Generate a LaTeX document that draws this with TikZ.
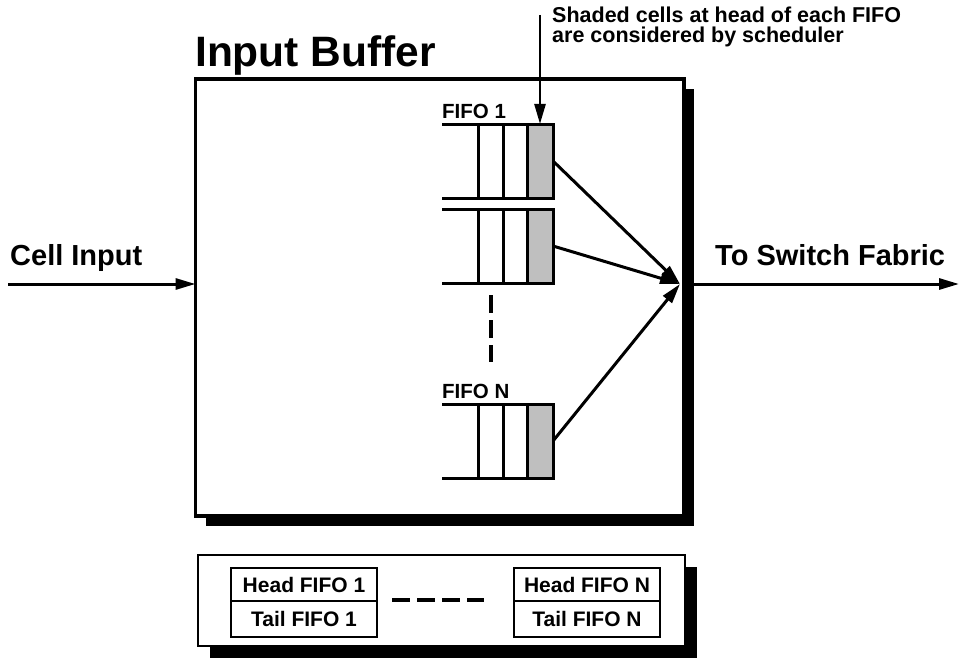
\documentclass[tikz,border=0pt]{standalone}
\usepackage{fontspec}
\setmainfont{Liberation Sans}
\usepackage{tikz}
\usetikzlibrary{arrows.meta, positioning, shadows}
\tikzset{
    shadowbox/.style={draw, fill=white, inner sep=0pt, outer sep=0pt,
        drop shadow={shadow xshift=#1, shadow yshift=-#1, fill=black, opacity=1}},
    headcell/.style={draw, fill=black!25, line width=3pt, inner sep=0pt, outer sep=0pt,
        minimum width=26pt, minimum height=74pt},
    ptrbox/.style={draw, line width=2.5pt, inner sep=0pt, outer sep=0pt, minimum width=146pt,
        font=\fontsize{21}{24}\selectfont\bfseries},
    bigarrow/.style={line width=3pt, -{Triangle[length=20pt, width=11pt]}},
    dots/.style={line width=4pt, dash pattern=on 18pt off 7pt},
    biglabel/.style={font=\fontsize{29}{32}\selectfont\bfseries, inner sep=0pt, anchor=base west},
    fifolabel/.style={font=\fontsize{20.5}{22}\selectfont\bfseries, inner sep=0pt, anchor=base west}
}

\begin{document}
\begin{tikzpicture}[x=1pt, y=-1pt]
    \useasboundingbox (0,0) rectangle (960,658);

    % input buffer
    \node[shadowbox=10pt, line width=3.5pt, minimum width=488.5pt, minimum height=437pt] (buffer) at (439.75,297.5) {};
    \node[font=\fontsize{42.5}{44}\selectfont\bfseries, inner sep=0pt, anchor=base west] (title) at (195,67) {Input Buffer};

    % FIFOs with shaded head cells
    \foreach \n/\y in {1/161, 2/246, N/441} {
        \draw[line width=3pt] (442,\y-37) -- (527,\y-37);
        \draw[line width=3pt] (442,\y+37) -- (527,\y+37);
        \draw[line width=3pt] (478,\y-37) -- (478,\y+37);
        \draw[line width=3pt] (503,\y-37) -- (503,\y+37);
        \node[headcell] (h\n) at (540,\y) {};
    }
    \node[fifolabel] (l1) at (442,118) {FIFO 1};
    \node[fifolabel] (lN) at (442,398) {FIFO N};
    \draw[dots] (491,295) -- (491,362);

    % scheduler
    \coordinate (hub) at (680,284);
    \foreach \n in {1,2,N} \draw[bigarrow] (h\n.east) -- (hub);

    % input and output
    \coordinate (src) at (8,284);
    \coordinate (dst) at (959,284);
    \draw[bigarrow] (src) -- (src -| buffer.west);
    \draw[bigarrow] (dst -| buffer.east) -- (dst);
    \node[biglabel] (cellin) at (10,265) {Cell Input};
    \node[biglabel] (fabric) at (715,265) {To Switch Fabric};

    % note
    \node[font=\fontsize{21.5}{20}\selectfont\bfseries, align=left, inner sep=0pt, anchor=base west] (note) at (552,43)
        {Shaded cells at head of each FIFO\\are considered by scheduler};
    \coordinate (notetop) at (540,15);
    \draw[bigarrow, line width=2.5pt] (notetop) -- (h1.north);

    % head/tail pointers
    \node[shadowbox=12pt, line width=2.5pt, minimum width=487pt, minimum height=91pt] (regs) at (441.5,600.5) {};
    \node[ptrbox, minimum height=33pt] (hd1) at (304,584.5) {Head FIFO 1};
    \node[ptrbox, minimum height=36pt, below=0pt of hd1] (tl1) {Tail FIFO 1};
    \node[ptrbox, minimum height=33pt] (hdN) at (587,584.5) {Head FIFO N};
    \node[ptrbox, minimum height=36pt, below=0pt of hdN] (tlN) {Tail FIFO N};
    \draw[dots] (392,600) -- (484,600);
\end{tikzpicture}
\end{document}
